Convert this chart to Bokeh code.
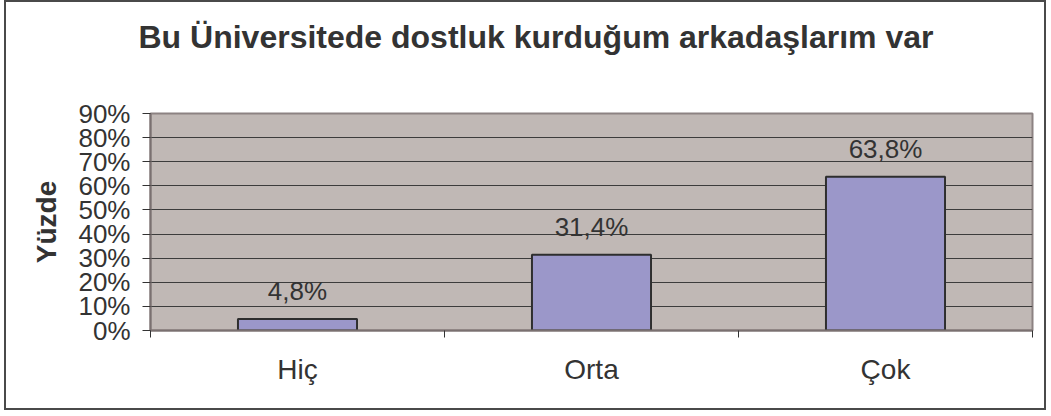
from bokeh.plotting import figure
from bokeh.models import (ColumnDataSource, FixedTicker, NumeralTickFormatter,
                          LabelSet, Title, Range1d)
from bokeh.core.properties import value
from bokeh.embed import file_html
from bokeh.resources import INLINE

# ---- data ----
categories = ["Hiç", "Orta", "Çok"]
percent_values = [4.8, 31.4, 63.8]
y_ticks = [0.0, 0.1, 0.2, 0.3, 0.4, 0.5, 0.6, 0.7, 0.8, 0.9]
title_text = "Bu Üniversitede dostluk kurduğum arkadaşlarım var"
y_axis_title = "Yüzde"

FONT = "Liberation Sans"
TXT = "#333333"

xs = [i + 0.5 for i in range(len(categories))]
ys = [v / 100.0 for v in percent_values]
labels = [("%.1f" % v).replace(".", ",") + "%" for v in percent_values]
src = ColumnDataSource(dict(x=xs, y=ys, label=labels))

p = figure(frame_width=882, frame_height=217,
           x_range=Range1d(0, len(categories)), y_range=Range1d(0, 0.9),
           output_backend="svg", toolbar_location=None,
           min_border_left=144, min_border_right=12,
           min_border_top=111, min_border_bottom=78,
           background_fill_color="#C0B8B5", border_fill_color="white")
p.styles = {"border": "2px solid #4a4a4a", "margin-left": "4px"}

p.outline_line_color = "#8C8282"
p.outline_line_width = 2

p.vbar(x="x", top="y", width=0.405, bottom=0, source=src,
       fill_color="#9B97C9", line_color="#2E2E2E", line_width=2)

p.add_layout(LabelSet(x="x", y="y", text="label", source=src,
                      text_align="center", text_baseline="alphabetic",
                      y_offset=19, text_font=value(FONT),
                      text_font_size=value("26px"),
                      text_color=TXT))

# spacer between frame and the title (closest to the frame)
p.add_layout(Title(text=" ", text_font_size="12px", standoff=43), "above")

# main title (outermost)
p.title.text = title_text
p.title.align = "left"
p.title.offset = -12
p.title.standoff = 0
p.title.text_font = FONT
p.title.text_font_size = "32px"
p.title.text_font_style = "bold"
p.title.text_color = TXT

# y axis
p.yaxis.ticker = FixedTicker(ticks=y_ticks)
p.yaxis.formatter = NumeralTickFormatter(format="0%")
p.yaxis.major_label_text_font = FONT
p.yaxis.major_label_text_font_size = "26px"
p.yaxis.major_label_text_color = TXT
p.yaxis.major_tick_out = 8
p.yaxis.major_tick_in = 0
p.yaxis.major_tick_line_color = "#333333"
p.yaxis.minor_tick_line_color = None
p.yaxis.major_label_standoff = 12
p.yaxis.axis_line_color = "#7A7070"
p.yaxis.axis_line_width = 2
p.yaxis.axis_label = y_axis_title
p.yaxis.axis_label_text_font = FONT
p.yaxis.axis_label_text_font_size = "28px"
p.yaxis.axis_label_text_font_style = "bold"
p.yaxis.axis_label_text_color = TXT
p.yaxis.axis_label_standoff = 13

# x axis
p.xaxis.ticker = FixedTicker(ticks=xs, minor_ticks=list(range(len(categories) + 1)))
p.xaxis.major_label_overrides = {x: c for x, c in zip(xs, categories)}
p.xaxis.major_label_text_font = FONT
p.xaxis.major_label_text_font_size = "28px"
p.xaxis.major_label_text_color = TXT
p.xaxis.major_tick_out = 0
p.xaxis.major_tick_in = 0
p.xaxis.minor_tick_out = 7
p.xaxis.minor_tick_in = 0
p.xaxis.minor_tick_line_color = "#333333"
p.xaxis.major_label_standoff = 16
p.xaxis.axis_line_color = "#7A7070"
p.xaxis.axis_line_width = 2

p.xgrid.grid_line_color = None
p.ygrid.ticker = FixedTicker(ticks=y_ticks)
p.ygrid.grid_line_color = "#3C3C3C"
p.ygrid.grid_line_width = 1

open("out.html", "w").write(file_html(p, INLINE))
